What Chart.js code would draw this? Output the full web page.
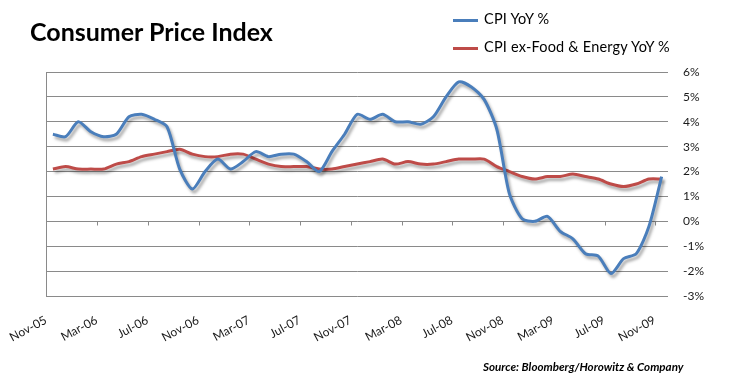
<!DOCTYPE html>
<html>
<head>
<meta charset="utf-8">
<script src="https://cdn.jsdelivr.net/npm/chart.js@4.4.1/dist/chart.umd.min.js"></script>
<style>
html,body{margin:0;padding:0;background:#fff;}
#wrap{position:relative;width:731px;height:388px;overflow:hidden;}
#c{position:absolute;left:0;top:0;}
#title{position:absolute;left:30px;top:16px;font-family:Lato,"Open Sans",sans-serif;font-weight:bold;font-size:25px;color:#000;white-space:nowrap;}
.leg{position:absolute;left:453px;font-family:Lato,"Open Sans",sans-serif;font-size:14.5px;letter-spacing:0.2px;color:#000;white-space:nowrap;line-height:16px;}
.sw{display:inline-block;width:25px;height:3px;vertical-align:middle;margin-right:6px;}
#source{position:absolute;left:483px;top:360px;font-family:Lato,"Open Sans",sans-serif;font-style:italic;font-weight:bold;font-size:11.6px;color:#000;white-space:nowrap;}
</style>
</head>
<body>
<div id="wrap">
<canvas id="c" width="731" height="388"></canvas>
<div id="title">Consumer Price Index</div>
<div class="leg" id="leg1" style="top:11px"><span class="sw" id="sw1"></span><span id="lt1"></span></div>
<div class="leg" id="leg2" style="top:39px"><span class="sw" id="sw2"></span><span id="lt2"></span></div>
<div id="source">Source: Bloomberg/Horowitz &amp; Company</div>
</div>
<script>
// Categories (monthly, Nov-05 .. Nov-09)
const months = ['Nov-05','Dec-05','Jan-06','Feb-06','Mar-06','Apr-06','May-06','Jun-06','Jul-06','Aug-06','Sep-06','Oct-06',
'Nov-06','Dec-06','Jan-07','Feb-07','Mar-07','Apr-07','May-07','Jun-07','Jul-07','Aug-07','Sep-07','Oct-07',
'Nov-07','Dec-07','Jan-08','Feb-08','Mar-08','Apr-08','May-08','Jun-08','Jul-08','Aug-08','Sep-08','Oct-08',
'Nov-08','Dec-08','Jan-09','Feb-09','Mar-09','Apr-09','May-09','Jun-09','Jul-09','Aug-09','Sep-09','Oct-09','Nov-09'];

// Series values (% YoY)
const cpiYoY = [3.5,3.4,4.0,3.6,3.4,3.5,4.2,4.3,4.1,3.8,2.1,1.3,
2.0,2.5,2.1,2.4,2.8,2.6,2.7,2.7,2.4,2.0,2.8,3.5,
4.3,4.1,4.3,4.0,4.0,3.9,4.2,5.0,5.6,5.4,4.9,3.7,
1.1,0.1,0.0,0.2,-0.4,-0.7,-1.3,-1.4,-2.1,-1.5,-1.3,-0.2,1.8];
const coreYoY = [2.1,2.2,2.1,2.1,2.1,2.3,2.4,2.6,2.7,2.8,2.9,2.7,
2.6,2.6,2.7,2.7,2.5,2.3,2.2,2.2,2.2,2.1,2.1,2.2,
2.3,2.4,2.5,2.3,2.4,2.3,2.3,2.4,2.5,2.5,2.5,2.2,
2.0,1.8,1.7,1.8,1.8,1.9,1.8,1.7,1.5,1.4,1.5,1.7,1.7];

// Series names
const seriesNames = ['CPI YoY %','CPI ex-Food & Energy YoY %'];
// Value axis ticks
const yTicks = [-3,-2,-1,0,1,2,3,4,5,6];
const labelEvery = 4;

const colors = ['#4A7EBB','#BE4B48'];
const gridColor = '#8A8A8A';

document.getElementById('sw1').style.background = colors[0];
document.getElementById('sw2').style.background = colors[1];
document.getElementById('lt1').textContent = seriesNames[0];
document.getElementById('lt2').textContent = seriesNames[1];

const shadowPlugin = {
  id:'shadow',
  beforeDatasetDraw(chart){
    const ctx = chart.ctx;
    ctx.save();
    ctx.shadowColor = 'rgba(0,0,0,0.35)';
    ctx.shadowBlur = 3;
    ctx.shadowOffsetX = 2;
    ctx.shadowOffsetY = 3;
  },
  afterDatasetDraw(chart){ chart.ctx.restore(); }
};

const zeroTicks = {
  id:'zeroTicks',
  beforeDatasetsDraw(chart){
    const xs = chart.scales.x, ys = chart.scales.y, ctx = chart.ctx;
    const y0 = Math.round(ys.getPixelForValue(0)) + 0.5;
    ctx.save();
    ctx.strokeStyle = gridColor;
    ctx.lineWidth = 1;
    ctx.beginPath();
    for (let i = labelEvery; i < months.length; i += labelEvery) {
      const px = Math.round((xs.getPixelForValue(i-1) + xs.getPixelForValue(i)) / 2) + 0.5;
      ctx.moveTo(px, y0);
      ctx.lineTo(px, y0 + 4);
    }
    ctx.stroke();
    ctx.restore();
  }
};

new Chart(document.getElementById('c'), {
  type:'line',
  data:{
    labels: months,
    datasets:[
      {label:seriesNames[0], data:cpiYoY, borderColor:colors[0], backgroundColor:colors[0], borderWidth:3, pointRadius:0, tension:0.25, yAxisID:'y'},
      {label:seriesNames[1], data:coreYoY, borderColor:colors[1], backgroundColor:colors[1], borderWidth:3, pointRadius:0, tension:0.25, yAxisID:'y'}
    ]
  },
  options:{
    responsive:false,
    animation:false,
    devicePixelRatio:1,
    layout:{padding:{left:40, right:0, top:72, bottom:0}},
    plugins:{legend:{display:false}, title:{display:false}, tooltip:{enabled:false}},
    scales:{
      x:{
        type:'category', offset:true, position:'bottom',
        grid:{display:false, drawTicks:false},
        border:{display:false},
        ticks:{autoSkip:false, maxRotation:28, minRotation:28, padding:17, labelOffset:-7, color:'#1a1a1a',
          font:{family:'Lato', size:12},
          callback:function(v, i){ return i % labelEvery === 0 ? months[i] : ''; }},
        afterFit(s){ s.height = 92; }
      },
      y:{
        position:'right', min:yTicks[0], max:yTicks[yTicks.length-1],
        afterBuildTicks(s){ s.ticks = yTicks.map(v => ({value:v})); },
        grid:{color:gridColor, lineWidth:1, drawTicks:false},
        border:{display:false},
        ticks:{padding:15, color:'#1a1a1a', font:{family:'Lato', size:12}, callback:v => v + '%'},
        afterFit(s){ s.width = 63; }
      },
      yL:{
        position:'left', min:yTicks[0], max:yTicks[yTicks.length-1],
        grid:{display:false, drawTicks:false},
        border:{display:true, color:gridColor, width:1},
        ticks:{display:false},
        afterFit(s){ s.width = 0; }
      }
    }
  },
  plugins:[shadowPlugin, zeroTicks]
});
</script>
</body>
</html>
